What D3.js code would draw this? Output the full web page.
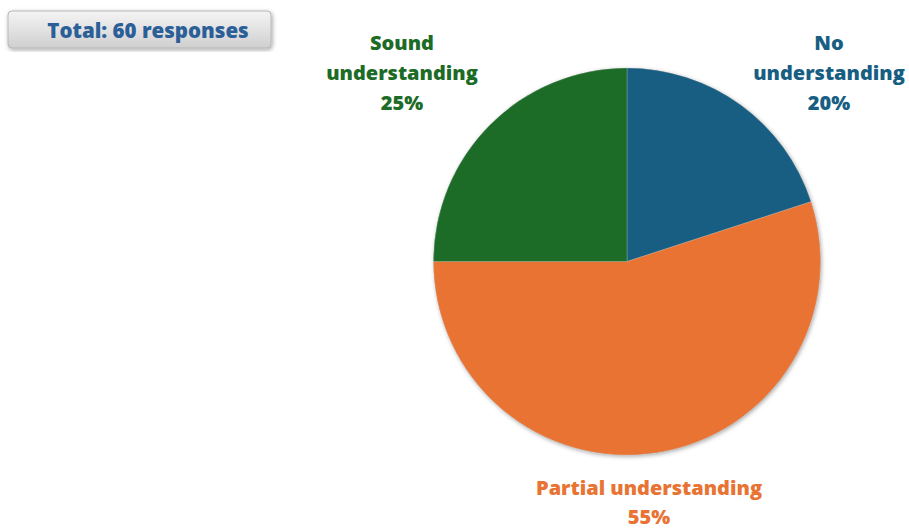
<!DOCTYPE html>
<html>
<head>
<meta charset="utf-8">
<script src="https://cdn.jsdelivr.net/npm/d3@7"></script>
<style>
  html, body { margin: 0; padding: 0; background: #ffffff; }
  svg { display: block; }
</style>
</head>
<body>
<svg id="chart" width="909" height="530"></svg>
<script>
// Survey response breakdown
const categories = ["No understanding", "Partial understanding", "Sound understanding"];
const percents = [20, 55, 25];
const colors = ["#175E82", "#E87333", "#1C6B26"];
const labelLines = [["No", "understanding", "20%"], ["Partial understanding", "55%"], ["Sound", "understanding", "25%"]];
const totalResponses = 60;

const svg = d3.select("#chart");
const font = "'Open Sans', 'Noto Sans', sans-serif";

const defs = svg.append("defs");

// soft shadow used by the pie and the summary box
const shadow = defs.append("filter").attr("id", "shadow")
  .attr("x", "-10%").attr("y", "-10%").attr("width", "120%").attr("height", "120%");
shadow.append("feDropShadow").attr("dx", 1).attr("dy", 1.5).attr("stdDeviation", 2)
  .attr("flood-color", "#000").attr("flood-opacity", 0.35);

const boxGrad = defs.append("linearGradient").attr("id", "boxGrad")
  .attr("x1", 0).attr("y1", 0).attr("x2", 0).attr("y2", 1);
boxGrad.append("stop").attr("offset", "0%").attr("stop-color", "#f4f4f4");
boxGrad.append("stop").attr("offset", "45%").attr("stop-color", "#e4e4e4");
boxGrad.append("stop").attr("offset", "100%").attr("stop-color", "#cfcfcf");

// summary box
const box = svg.append("g");
box.append("rect")
  .attr("x", 8).attr("y", 11).attr("width", 263).attr("height", 37).attr("rx", 4)
  .attr("fill", "url(#boxGrad)").attr("stroke", "#b8b8b8").attr("stroke-width", 1)
  .attr("filter", "url(#shadow)");
box.append("text")
  .attr("x", 148).attr("y", 31).attr("dy", "0.35em")
  .attr("text-anchor", "middle")
  .attr("font-family", font).attr("font-weight", 800).attr("font-size", 20.5)
  .attr("fill", "#2B5F98")
  .text(`Total: ${totalResponses} responses`);

// pie
const cx = 627, cy = 261.5, radius = 193.5;
const data = categories.map((c, i) => ({ name: c, value: percents[i], color: colors[i], lines: labelLines[i] }));

const pie = d3.pie().value(d => d.value).sort(null);
const arc = d3.arc().innerRadius(0).outerRadius(radius);
const arcs = pie(data);

const g = svg.append("g").attr("transform", `translate(${cx},${cy})`);
g.append("circle").attr("r", radius).attr("fill", "#888").attr("filter", "url(#shadow)");
g.selectAll("path.slice").data(arcs).join("path")
  .attr("class", "slice")
  .attr("d", arc)
  .attr("fill", d => d.data.color)
  .attr("stroke", "#ffffff").attr("stroke-width", 0.5).attr("stroke-opacity", 0.4);

// labels placed outside each slice
const labelPos = [
  { x: 829, y: 43 },
  { x: 649, y: 488 },
  { x: 402, y: 43 }
];
const lineH = 30;
arcs.forEach((a, i) => {
  const t = svg.append("text")
    .attr("text-anchor", "middle")
    .attr("font-family", font).attr("font-weight", 800).attr("font-size", 20)
    .attr("fill", a.data.color);
  a.data.lines.forEach((ln, j) => {
    t.append("tspan")
      .attr("x", labelPos[i].x)
      .attr("y", labelPos[i].y + j * (i === 1 ? 28.5 : lineH))
      .attr("dy", "0.35em")
      .text(ln);
  });
});
</script>
</body>
</html>
